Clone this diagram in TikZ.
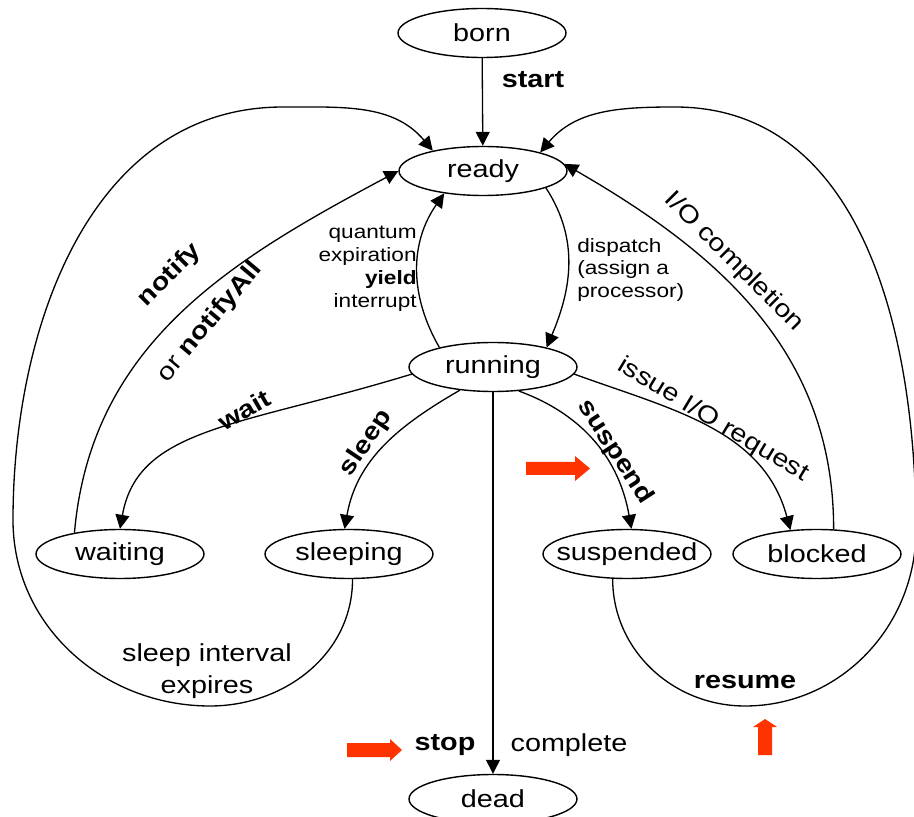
\documentclass[tikz,border=0pt]{standalone}
\usepackage{fontspec}
\setmainfont{Liberation Sans}[FakeStretch=1.17]
\usetikzlibrary{shapes.geometric,arrows.meta}
\definecolor{pointerred}{RGB}{255,51,0}
\tikzset{
  state/.style={ellipse,draw,line width=0.8pt,minimum width=3.36cm,minimum height=0.98cm,inner xsep=-0.3cm,inner ysep=0pt,font=\fontsize{14}{17}\selectfont},
  trans/.style={line width=0.75pt,-{Triangle[length=0.28cm,width=0.28cm]}},
  lbl/.style={inner sep=0pt,align=center,font=\fontsize{14}{18}\selectfont},
  blbl/.style={lbl,font=\fontsize{14}{18}\selectfont\bfseries},
  smalllbl/.style={inner sep=0pt,font=\fontsize{11}{13}\selectfont},
  pointer/.style={fill=pointerred}
}
\begin{document}
\begin{tikzpicture}[x=0.02cm,y=0.02cm]
\useasboundingbox (0,0) rectangle (914,816);
\clip (0,0) rectangle (914,816);
\node[state] (born) at (482,783) {born};
\node[state] (ready) at (483,645) {ready};
\node[state] (running) at (493,449) {running};
\node[state] (waiting) at (120,262) {waiting};
\node[state] (sleeping) at (349,262) {sleeping};
\node[state] (suspended) at (627,262) {suspended};
\node[state] (blocked) at (817,262) {blocked};
\node[state] (dead) at (493,17) {dead};
\coordinate (sleepbottom) at (210,110);
\coordinate (sleepleft) at (13,296);
\coordinate (sleeptop) at (283,709);
\coordinate (resumebottom) at (745,110);
\coordinate (resumeright) at (916,286);
\coordinate (resumetop) at (675,709);

\draw[trans] (born) -- (ready);
\draw[trans] (ready.-15) to[out=-57,in=67] (running.20);
\draw[trans] (running.160) to[out=120,in=-125] (ready.210);
\draw[trans] (waiting.155) to[out=85,in=208] (ready.west);
\draw[trans] (sleeping.-82) to[out=-90,in=0] (sleepbottom) to[out=180,in=-90] (sleepleft)
  to[out=90,in=180] (sleeptop) to[out=0,in=130] (ready.158);
\draw[trans] (running.185) to[out=197,in=80,out looseness=1.4,in looseness=0.8] (waiting.north);
\draw[trans] (running.215) to[out=210,in=80] (sleeping.100);
\draw[trans] (running) -- (dead);
\draw[trans] (running.-43) to[out=-20,in=100] (suspended.80);
\draw[trans] (running.-5) to[out=-20,in=105] (blocked.138);
\draw[trans] (blocked.56) to[out=90,in=-30] (ready.5);
\draw[trans] (suspended.-120) to[out=-90,in=180] (resumebottom) to[out=0,in=-90] (resumeright)
  to[out=90,in=0] (resumetop) to[out=180,in=50] (ready.18);

\node[blbl] (lstart) at (533,736) {start};
\node[smalllbl,align=right,anchor=east] (lquantum) at (417,547) {quantum\\expiration\\\textbf{yield}\\interrupt};
\node[smalllbl,align=left,anchor=west] (ldispatch) at (577,546) {dispatch\\(assign a\\processor)};
\node[blbl,rotate=45] (lnotify) at (170,541) {notify};
\node[lbl,rotate=50] (lnotifyall) at (210,494) {or \textbf{notifyAll}};
\node[blbl,rotate=30] (lwait) at (244,406) {wait};
\node[blbl,rotate=56] (lsleep) at (366,373) {sleep};
\node[lbl] (linterval) at (207,145) {sleep interval\\expires};
\node[blbl] (lstop) at (445,71) {stop};
\node[lbl] (lcomplete) at (569,71) {complete};
\node[blbl,rotate=-57] (lsuspend) at (615,364) {suspend};
\node[lbl,rotate=-31] (lissue) at (713,396) {issue I/O request};
\node[lbl,rotate=-45] (lcompletion) at (734,554) {I/O completion};
\node[blbl] (lresume) at (745,134) {resume};

\fill[pointer] (347,59) -- (390,59) -- (390,55) -- (402,66) -- (390,77) -- (390,73) -- (347,73) -- cycle;
\fill[pointer] (526,341) -- (575,341) -- (575,335) -- (590,347.5) -- (575,360) -- (575,354) -- (526,354) -- cycle;
\fill[pointer] (758,61) -- (772,61) -- (772,89) -- (777,89) -- (765,97) -- (753,89) -- (758,89) -- cycle;
\end{tikzpicture}
\end{document}
